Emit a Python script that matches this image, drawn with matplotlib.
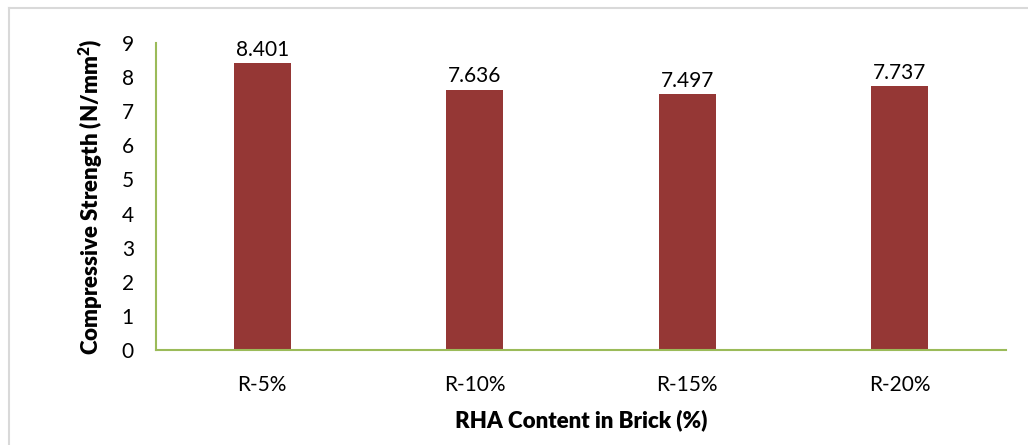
import matplotlib
matplotlib.use('Agg')
import matplotlib.pyplot as plt
from matplotlib.lines import Line2D
import numpy as np

# Dados do ensaio
categorias = ['R-5%', 'R-10%', 'R-15%', 'R-20%']
resistencia = [8.401, 7.636, 7.497, 7.737]
rotulos = ['8.401', '7.636', '7.497', '7.737']

plt.rcParams['font.family'] = ['Lato', 'DejaVu Sans']
plt.rcParams['mathtext.fontset'] = 'custom'
plt.rcParams['mathtext.rm'] = 'Lato'
plt.rcParams['mathtext.bf'] = 'Lato:heavy'

cor_barra = '#953735'
cor_eixo = '#9BBB59'

fig = plt.figure(figsize=(10.28, 4.45), dpi=100)
ax = fig.add_axes([0.1518, 0.2135, 0.8268, 0.6899])

x = np.arange(len(categorias))
ax.bar(x, resistencia, width=0.27, color=cor_barra, zorder=2)

# Valores acima das barras
for xi, v, r in zip(x, resistencia, rotulos):
    ax.text(xi, v + 0.1, r, ha='center', va='bottom', fontsize=15, color='black')

ax.set_xlim(-0.5, len(categorias) - 0.5)
ax.set_ylim(0, 9)
ax.set_yticks(range(0, 10))
ax.set_xticks(x)
ax.set_xticklabels(categorias)
ax.tick_params(axis='both', length=0, labelsize=15)
ax.tick_params(axis='y', pad=16)
ax.tick_params(axis='x', pad=18)

for lado in ['top', 'right']:
    ax.spines[lado].set_visible(False)
ax.spines['left'].set_color(cor_eixo)
ax.spines['bottom'].set_color(cor_eixo)
ax.spines['left'].set_linewidth(1.5)
ax.spines['bottom'].set_linewidth(1.5)
ax.spines['bottom'].set_zorder(3)

ax.set_xlabel('RHA Content in Brick (%)', fontsize=16, fontweight='heavy', labelpad=10)
ax.set_ylabel(r'Compressive Strength (N/mm$^{\mathbf{2}}$)', fontsize=16,
              fontweight='heavy', labelpad=12)

# Moldura da área do gráfico (topo e esquerda)
fig.add_artist(Line2D([9 / 1028, 1], [1 - 8 / 445, 1 - 8 / 445],
                      transform=fig.transFigure, color='#D9D9D9', lw=1.5))
fig.add_artist(Line2D([9 / 1028, 9 / 1028], [0, 1 - 8 / 445],
                      transform=fig.transFigure, color='#D9D9D9', lw=1.5))

fig.savefig('out.png', dpi=100)
